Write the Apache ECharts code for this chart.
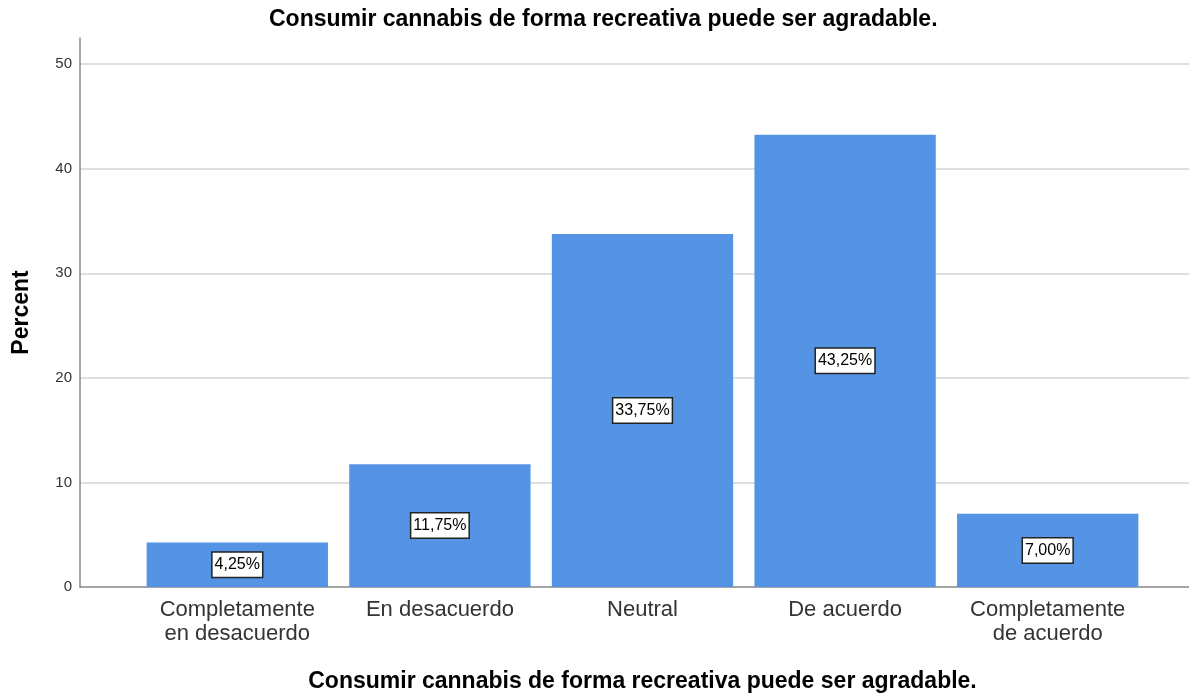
<!DOCTYPE html>
<html>
<head>
<meta charset="utf-8">
<script src="https://cdn.jsdelivr.net/npm/echarts@6/dist/echarts.min.js"></script>
<style>html,body{margin:0;padding:0;background:#fff}#c{width:1189px;height:696px}</style>
</head>
<body>
<div id="c"></div>
<script>
const titleText = 'Consumir cannabis de forma recreativa puede ser agradable.';
const categories = ['Completamente\nen desacuerdo', 'En desacuerdo', 'Neutral', 'De acuerdo', 'Completamente\nde acuerdo'];
const percents = [4.25, 11.75, 33.75, 43.25, 7.00];
const yTicks = [0, 10, 20, 30, 40, 50];

const FONT = '"Liberation Sans", Arial, sans-serif';
const chart = echarts.init(document.getElementById('c'), null, {renderer: 'canvas'});
const TOP = 38, BOTTOM = 109, YMAX = 52.5;
chart.setOption({
  animation: false,
  title: {
    text: titleText, left: 264, top: 3,
    textStyle: {fontFamily: FONT, fontSize: 23, fontWeight: 'bold', color: '#000'}
  },
  grid: [
    {left: 80, right: 0, top: TOP, bottom: BOTTOM, outerBoundsMode: 'none', containLabel: false},
    {left: 136, right: 40, top: TOP, bottom: BOTTOM, outerBoundsMode: 'none', containLabel: false}
  ],
  xAxis: [
    {gridIndex: 0, type: 'value', min: 0, max: 1, axisLabel: {show: false}, axisTick: {show: false}, splitLine: {show: false},
     axisLine: {show: true, lineStyle: {color: '#888', width: 1.5}}},
    {gridIndex: 1, type: 'category', data: categories,
     axisLine: {show: false}, axisTick: {show: false},
     axisLabel: {fontFamily: FONT, fontSize: 22, color: '#333', margin: 11, lineHeight: 24, interval: 0},
     name: titleText, nameLocation: 'middle', nameGap: 83,
     nameTextStyle: {fontFamily: FONT, fontSize: 23, fontWeight: 'bold', color: '#000'}}
  ],
  yAxis: [
    {gridIndex: 0, type: 'value', min: 0, max: YMAX, interval: 10,
     axisLine: {show: true, lineStyle: {color: '#888', width: 1.5}},
     axisTick: {show: false},
     axisLabel: {fontFamily: FONT, fontSize: 15, color: '#333', margin: 8, showMaxLabel: false,
       formatter: v => yTicks.includes(v) ? String(v) : ''},
     splitLine: {show: true, showMaxLine: false, showMinLine: false, lineStyle: {color: '#d4d4d4', width: 1.5}},
     name: 'Percent', nameLocation: 'middle', nameGap: 47,
     nameTextStyle: {fontFamily: FONT, fontSize: 23, fontWeight: 'bold', color: '#000'}},
    {gridIndex: 1, type: 'value', min: 0, max: YMAX, show: false}
  ],
  series: [{
    type: 'bar', xAxisIndex: 1, yAxisIndex: 1, data: percents,
    barCategoryGap: '10.5%',
    itemStyle: {color: '#5594e4'},
    label: {
      show: true, position: 'inside',
      formatter: p => p.value.toFixed(2).replace('.', ',') + '%',
      fontFamily: FONT, fontSize: 16, color: '#000',
      backgroundColor: '#fff', borderColor: '#222', borderWidth: 1.5, padding: [5, 2, 3, 2]
    }
  }]
});
</script>
</body>
</html>
